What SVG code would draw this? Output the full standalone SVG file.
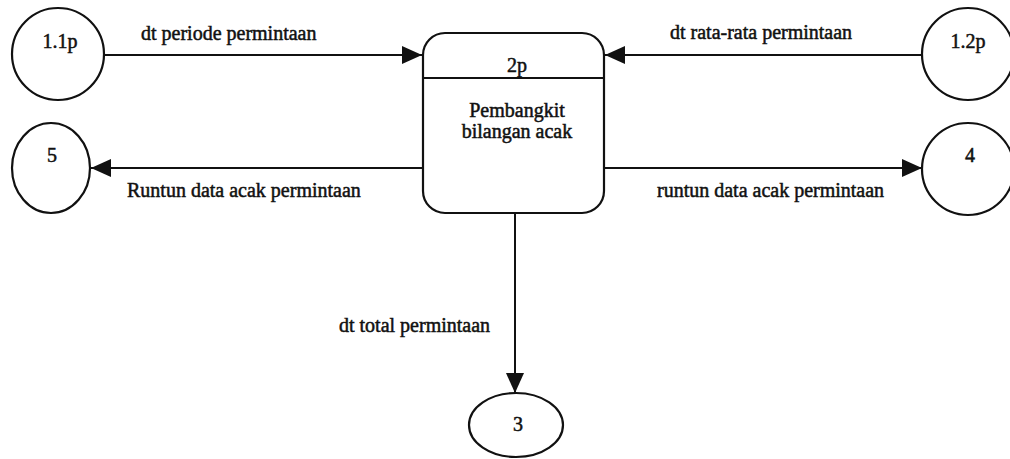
<svg xmlns="http://www.w3.org/2000/svg" width="1010" height="459" viewBox="0 0 1010 459">
  <style>
    .shape { fill: #ffffff; stroke: #111111; stroke-width: 2.2; }
    .flow { fill: none; stroke: #111111; stroke-width: 2; }
    text { font-family: "Liberation Serif", "Times New Roman", serif; font-size: 20px; fill: #111111; stroke: #111111; stroke-width: 0.5; }
    .mid { text-anchor: middle; }
  </style>
  <defs>
    <marker id="head" viewBox="0 0 20 18" refX="20" refY="9" markerWidth="20" markerHeight="18" markerUnits="userSpaceOnUse" orient="auto">
      <path d="M0,0 L20,9 L0,18 Z" fill="#111111"/>
    </marker>
  </defs>

  <!-- data flows -->
  <g id="connectors">
    <line class="flow" x1="105" y1="55" x2="422" y2="55" marker-end="url(#head)"/>
    <line class="flow" x1="922" y1="55" x2="605" y2="55" marker-end="url(#head)"/>
    <line class="flow" x1="423" y1="168" x2="91" y2="168" marker-end="url(#head)"/>
    <line class="flow" x1="604" y1="168" x2="922" y2="168" marker-end="url(#head)"/>
    <line class="flow" x1="515" y1="213" x2="515" y2="393" marker-end="url(#head)"/>
    <text x="141" y="40">dt periode permintaan</text>
    <text x="670" y="39">dt rata-rata permintaan</text>
    <text x="127" y="197">Runtun data acak permintaan</text>
    <text x="657" y="197">runtun data acak permintaan</text>
    <text x="339" y="332">dt total permintaan</text>
  </g>

  <!-- process 2p -->
  <g id="process-2p">
    <rect class="shape" x="423" y="33" width="181" height="180" rx="22" ry="22"/>
    <line class="flow" x1="423" y1="78" x2="604" y2="78" stroke-width="2.4"/>
    <text class="mid" x="517" y="72">2p</text>
    <text class="mid" x="517" y="117">Pembangkit</text>
    <text class="mid" x="517" y="138">bilangan acak</text>
  </g>

  <g id="node-1-1p">
    <ellipse class="shape" cx="58" cy="54" rx="46" ry="46"/>
    <text class="mid" x="60" y="48">1.1p</text>
  </g>

  <g id="node-5">
    <ellipse class="shape" cx="51" cy="168" rx="39" ry="45"/>
    <text class="mid" x="52" y="162">5</text>
  </g>

  <g id="node-1-2p">
    <ellipse class="shape" cx="968" cy="54" rx="46" ry="46"/>
    <text class="mid" x="968" y="48">1.2p</text>
  </g>

  <g id="node-4">
    <ellipse class="shape" cx="968" cy="169" rx="46" ry="46"/>
    <text class="mid" x="970" y="162">4</text>
  </g>

  <g id="node-3">
    <ellipse class="shape" cx="516" cy="425" rx="47" ry="32"/>
    <text class="mid" x="518" y="431">3</text>
  </g>
</svg>
